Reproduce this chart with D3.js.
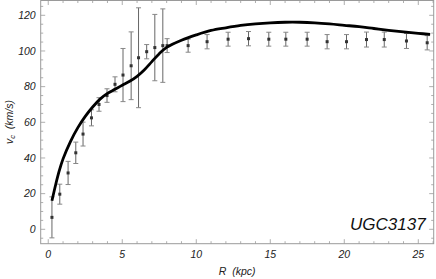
<!DOCTYPE html>
<html>
<head>
<meta charset="utf-8">
<script src="https://cdn.jsdelivr.net/npm/d3@7"></script>
<style>
  body { margin: 0; background: #fff; }
  svg text { font-family: "Liberation Sans", Arial, sans-serif; font-style: italic; }
</style>
</head>
<body>
<div id="chart"></div>
<script>
// observed rotation curve (R in kpc, v in km/s, error)
let obsR = [0.25, 0.78, 1.34, 1.86, 2.35, 2.92, 3.43, 3.97, 4.51, 5.05, 5.6, 6.1, 6.65, 7.2, 7.74, 8.03,
  9.45, 10.73, 12.15, 13.53, 14.9, 16.05, 17.49, 18.84, 20.15, 21.5, 22.7, 24.2, 25.6];
let obsV = [6.7, 19.7, 31.6, 42.9, 53.4, 62.5, 70, 75, 81.3, 86.5, 91.7, 96.2, 99.6, 101.9, 103, 103,
  103, 105.2, 106.6, 106.9, 106.6, 106.6, 106.6, 105.2, 105.2, 106.4, 106.4, 105.6, 104.6];
let obsErr = [11.5, 5.6, 6.5, 6, 6.7, 4.5, 3.8, 3.8, 4.2, 14.9, 19, 28, 4, 18.6, 20.6, 3.9,
  3.7, 4, 3.9, 4, 3.9, 3.9, 3.9, 4, 4, 4.2, 4.2, 4.2, 4];

// model curve
let fitR = [0.25, 0.5, 0.75, 1, 1.5, 2, 2.5, 3, 3.5, 4, 4.5, 5, 5.5, 6, 6.5, 7, 7.5, 8, 9, 10, 11, 12,
  13, 14, 15, 16, 17, 18, 19, 20, 21, 22, 23, 24, 25, 25.8];
let fitV = [16, 25, 33, 39.5, 49.2, 57, 63.3, 68.6, 73, 76.2, 78.5, 80.8, 83, 85.8, 89.5, 94, 98.5, 102,
  106, 109, 111.5, 113, 114.3, 115.2, 115.8, 116.1, 116.1, 115.8, 115.2, 114.4, 113.6, 112.6, 111.6,
  110.7, 109.9, 109.3];

let xMajor = [0, 5, 10, 15, 20, 25];
let yMajor = [0, 20, 40, 60, 80, 100, 120];

let svgWidth = 436;
let svgHeight = 279;
let margin = { top: 0.5, right: 2.3, bottom: 35.3, left: 40.7 };
let width = svgWidth - margin.left - margin.right;
let height = svgHeight - margin.top - margin.bottom;

let svg = d3.select("#chart")
  .append("svg")
  .attr("width", svgWidth)
  .attr("height", svgHeight);

let g = svg.append("g")
  .attr("transform", `translate(${margin.left}, ${margin.top})`);

let x = d3.scaleLinear().domain([-0.51, 26.04]).range([0, width]);
let y = d3.scaleLinear().domain([-8.07, 128.3]).range([height, 0]);

let frameColor = "#9a9a9a";

// ticks on all four sides, pointing inward
let xMinor = d3.range(0, 27, 1).filter(d => x(d) <= width);
let yMinor = d3.range(-5, 130, 5).filter(d => y(d) >= 0 && y(d) <= height);

function tickLen(isMajor) { return isMajor ? 4.5 : 2.5; }

xMinor.forEach(d => {
  let L = tickLen(d % 5 === 0);
  g.append("line").attr("x1", x(d)).attr("x2", x(d)).attr("y1", height).attr("y2", height - L)
    .attr("stroke", frameColor).attr("stroke-width", 0.8);
  g.append("line").attr("x1", x(d)).attr("x2", x(d)).attr("y1", 0).attr("y2", L)
    .attr("stroke", frameColor).attr("stroke-width", 0.8);
});
yMinor.forEach(d => {
  let L = tickLen(d % 20 === 0);
  g.append("line").attr("x1", 0).attr("x2", L).attr("y1", y(d)).attr("y2", y(d))
    .attr("stroke", frameColor).attr("stroke-width", 0.8);
  g.append("line").attr("x1", width).attr("x2", width - L).attr("y1", y(d)).attr("y2", y(d))
    .attr("stroke", frameColor).attr("stroke-width", 0.8);
});

g.append("rect")
  .attr("width", width)
  .attr("height", height)
  .attr("fill", "none")
  .attr("stroke", frameColor)
  .attr("stroke-width", 1);

// tick labels
g.selectAll(".xlab")
  .data(xMajor)
  .enter()
  .append("text")
  .attr("x", d => x(d))
  .attr("y", height + 14)
  .attr("text-anchor", "middle")
  .attr("font-size", 10.5)
  .attr("fill", "#222")
  .text(d => d);

g.selectAll(".ylab")
  .data(yMajor)
  .enter()
  .append("text")
  .attr("x", -5)
  .attr("y", d => y(d) + 3.8)
  .attr("text-anchor", "end")
  .attr("font-size", 10.5)
  .attr("fill", "#222")
  .text(d => d);

// error bars
let bars = g.selectAll(".err")
  .data(obsR.map((r, i) => ({ r: r, v: obsV[i], e: obsErr[i] })))
  .enter()
  .append("g");

bars.append("line")
  .attr("x1", d => x(d.r)).attr("x2", d => x(d.r))
  .attr("y1", d => y(d.v + d.e)).attr("y2", d => y(d.v - d.e))
  .attr("stroke", "#666").attr("stroke-width", 1);
bars.append("line")
  .attr("x1", d => x(d.r) - 2.5).attr("x2", d => x(d.r) + 2.5)
  .attr("y1", d => y(d.v + d.e)).attr("y2", d => y(d.v + d.e))
  .attr("stroke", "#888").attr("stroke-width", 1);
bars.append("line")
  .attr("x1", d => x(d.r) - 2.5).attr("x2", d => x(d.r) + 2.5)
  .attr("y1", d => y(d.v - d.e)).attr("y2", d => y(d.v - d.e))
  .attr("stroke", "#888").attr("stroke-width", 1);
bars.append("rect")
  .attr("x", d => x(d.r) - 1.5).attr("y", d => y(d.v) - 1.5)
  .attr("width", 3).attr("height", 3)
  .attr("fill", "#333");

// model line
let line = d3.line()
  .x((d, i) => x(fitR[i]))
  .y(d => y(d))
  .curve(d3.curveCatmullRom);

g.append("path")
  .datum(fitV)
  .attr("d", line)
  .attr("fill", "none")
  .attr("stroke", "#000")
  .attr("stroke-width", 2.8);

// galaxy name
g.append("text")
  .attr("x", width - 8)
  .attr("y", y(0) + 0.5)
  .attr("text-anchor", "end")
  .attr("font-size", 17)
  .attr("fill", "#111")
  .text("UGC3137");

// axis titles
g.append("text")
  .attr("x", width / 2)
  .attr("y", height + 31)
  .attr("text-anchor", "middle")
  .attr("font-size", 10.5)
  .attr("fill", "#222")
  .attr("xml:space", "preserve")
  .text("R  (kpc)");

let yt = g.append("text")
  .attr("transform", `translate(${-28}, ${height / 2}) rotate(-90)`)
  .attr("text-anchor", "middle")
  .attr("font-size", 10.5)
  .attr("fill", "#222");
yt.append("tspan").text("v");
yt.append("tspan").attr("font-size", 7.5).attr("dy", 2).text("c");
yt.append("tspan").attr("dy", -2).attr("xml:space", "preserve").text("  (km/s)");
</script>
</body>
</html>
